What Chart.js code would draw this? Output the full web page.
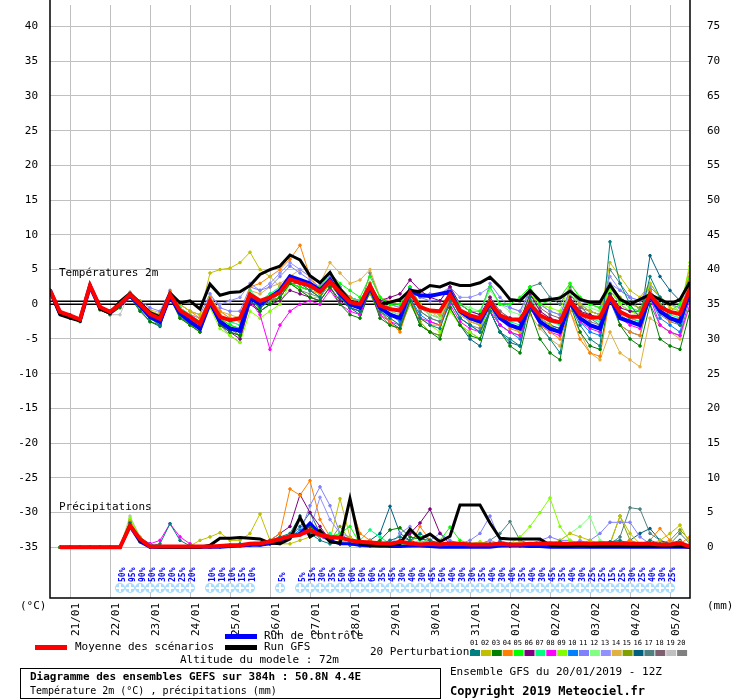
<!DOCTYPE html>
<html><head><meta charset="utf-8">
<script src="https://cdn.jsdelivr.net/npm/chart.js@4"></script>
<style>body{margin:0;background:#fff}canvas{display:block}</style>
</head><body><canvas id="c" width="740" height="700"></canvas>
<script>
const hours=[0,6,12,18,24,30,36,42,48,54,60,66,72,78,84,90,96,102,108,114,120,126,132,138,144,150,156,162,168,174,180,186,192,198,204,210,216,222,228,234,240,246,252,258,264,270,276,282,288,294,300,306,312,318,324,330,336,342,348,354,360,366,372,378,384];
const dayTicks=[12,36,60,84,108,132,156,180,204,228,252,276,300,324,348,372];
const dayLabels=["21/01","22/01","23/01","24/01","25/01","26/01","27/01","28/01","29/01","30/01","31/01","01/02","02/02","03/02","04/02","05/02"];
const leftTicks=[-35,-30,-25,-20,-15,-10,-5,0,5,10,15,20,25,30,35,40];
const rightTicks=[0,5,10,15,20,25,30,35,40,45,50,55,60,65,70,75];
const meanT=[2,-1.1,-1.6,-2.2,2.7,-0.4,-1.1,0,1.4,0,-1.4,-2.1,1.4,-0.9,-1.8,-2.8,0.5,-1.8,-2.3,-2,1.4,0.5,1,1.7,3.6,3.1,2.7,1.8,3.3,1.7,0.3,0,2.7,-0.2,-0.7,-0.9,1.7,-0.4,-0.9,-1,1.4,-0.9,-1.6,-2,0.3,-1.6,-2.2,-2.2,0,-1.6,-2.3,-2.6,0.5,-1.4,-1.9,-1.9,1,-1.1,-1.8,-1.8,1.4,-0.4,-1.1,-1.4,2.2];
const ctrlT=[2,-1.3,-1.8,-2.3,2.6,-0.5,-1.2,0,1.3,-0.2,-1.8,-2.5,1.2,-1.3,-2.5,-3.5,0.3,-2.5,-3.5,-3.8,1,0,1,2,4,3.5,3,2,3.5,1.5,0,-0.5,2.5,-0.5,-1.5,-2,2,1.3,1.2,1.5,1.8,-1,-2,-2.5,0.2,-2,-3,-3.5,0,-2.5,-3.5,-4,0.3,-2,-3,-3.5,1,-2,-2.5,-3,1.3,-1,-2,-2.5,2];
const gfsT=[2,-1.5,-2,-2.4,2.7,-0.7,-1.3,0.4,1.6,0.2,-1.2,-1.8,1.6,0.2,0.5,-0.7,2.9,1.3,1.7,1.8,2.7,4.3,5,5.5,7.1,6.4,4.1,3.1,4.6,2.2,0.5,0,2.6,0,0.3,0.7,2,1.8,2.7,2.5,3.1,2.7,2.7,3.1,3.9,2.5,0.7,0.5,2,0.5,0.7,0.9,1.9,0.7,0.3,0.3,2.8,0.7,0,0.7,1.4,0.7,0,0.7,3.2];
const pertT=[
[2,-1,-1.5,-2,2.5,-0.5,-1,0.3,1.5,-0.3,-2,-3,1,-1.5,-2.5,-3.5,0.5,-2.5,-3.5,-4,1.5,0,1,2,4,3,2,1,3.5,1,-0.5,-1,2.5,-1,-2,-3,1,-2,-3,-3.5,0.5,-2,-3,-4,-1,-4,-5,-6,1,-3,-5,-7,0,-3,-5,-6,9,3,0,-2,4,1,-2,-3,3],
[2,-1.3,-1.8,-2.3,2.8,-0.3,-1,0,1.4,0.5,-1,-1.5,1.5,0,-1,-1.5,4.5,5,5.2,6,7.5,5,4,2.5,4,3,2,1.5,3,1.5,0.5,0,3,0,-0.5,-1,2,0,-1,-1.5,1.5,-1,-2,-3,0.5,-2,-3,-4,0.5,-2,-3,-4,2,0,-1,-1.5,6,4,2,1,3,1,-0.5,-1,5.5],
[2,-1.4,-2,-2.5,2.5,-0.8,-1.5,-0.5,1,-1,-2.5,-3,1,-2,-3,-4,0,-3,-4,-4.5,0.5,-1,0,1,3,2,1,0.5,2.5,0,-1.5,-2,2,-2,-3,-3.5,0.5,-3,-4,-5,-0.5,-3,-4.5,-5,-1,-4,-6,-7,-1,-5,-7,-8,0,-4,-6,-6.5,1.5,-3,-5,-6,0,-5,-6,-6.5,-1],
[2,-1.2,-1.7,-2.1,2.7,-0.4,-1,0.2,1.6,0.3,-1,-2,1.8,0,-1,-2,1,-1,-2,-2.5,2.5,3,4,5,6.5,8.5,4,2,3,2,1,0,3,-1,-2.5,-4,0.5,-2,-3,-3,1,-1,-2,-2.5,0,-2,-3.5,-4,0.5,-3,-4,-5,-1,-5,-7,-7.5,1,-3,-4,-4.5,2,-1,-2.5,-2,4],
[2,-1.1,-1.6,-2,2.6,-0.3,-1,0.1,1.4,0,-1.5,-2,1.5,-1,-2,-3,1,-2,-3,-3.5,1.5,-1,0,1,3,2.5,2,2.5,4.5,3,2,1,4,1,0,0,2.5,0,-1,-1.5,2,0,-1,-1,2.5,0,0,1,2.5,0,0.5,1,3,1,0,-0.5,2.5,0.5,-0.5,-1,2,0,-1,0,4.5],
[2,-1.2,-1.8,-2.2,2.6,-0.5,-1.2,0,1.3,-0.2,-1.6,-2.5,1.2,-1.2,-2.5,-3.5,0.3,-3,-4,-5,0,-1,0,0.5,2,1.5,1,0.5,2.5,0.5,-0.5,-1,2.5,0.5,1,1.5,3.5,2,1,0.5,2.5,0,-1,-1.5,1,-1.5,-2,-2.5,1.5,-1,-2,-2.5,1,-1,-1.5,-2,1.5,-0.5,-1,-1,2,0,-1,-1.5,2.5],
[2,-1,-1.5,-2,2.8,-0.3,-0.9,0.2,1.5,0,-1.5,-2,1.5,-0.5,-1.5,-2.5,1,-1.5,-2.5,-3,2,0.5,1.5,2.5,4,3.5,3,2,3.5,2,1,0.5,3,0,-0.5,-1,2.5,0,-1,-1.5,1.5,-1,-2,-2.5,0.5,-2,-2.5,-3,1,-1.5,-2.5,-3,1,-1,-2,-2.5,1.5,-1,-2,-2.5,1.5,-1,-1.5,-2,2.5],
[2,-1.2,-1.7,-2.2,2.6,-0.5,-1.1,0,1.3,-0.3,-1.5,-2.2,1.3,-1,-2,-3,0,-2.5,-3.5,-4,0.5,-1.5,-6.5,-3,-1,0,0.5,0,2,0,-1,-1.5,2,-1.5,-2.5,-3,0.5,-2,-2.5,-3,0,-2.5,-3.5,-4,-1,-3,-4,-4.5,-0.5,-3,-4,-4.5,0,-2.5,-3.5,-4,0.5,-2,-3,-3.5,1,-3,-4,-4.5,0],
[2,-1.1,-1.6,-2.1,2.7,-0.4,-1,0.2,1.5,-0.5,-2,-3,1,-2,-3,-4,-0.5,-3.5,-4.5,-5.5,-1,-2,-1,0,3,2,1,1,3,1,0,-0.5,2,-1,-2,-3,0,-2,-3,-4,-1,-3,-4,-5,1,-2,-3,-3.5,1.5,0,-0.5,-1,3,1,0,-0.5,2,0,-1,-1.5,3,1,0,-1,6],
[2,-1.3,-1.9,-2.4,2.6,-0.6,-1.3,-0.2,1.2,-0.5,-2,-2.8,1.2,-1.5,-2.5,-3.5,0.5,-2.5,-3.5,-4,1,0,1,1.5,3.5,3,2.5,1.5,3,1,0,-0.5,2.5,-0.5,-1.5,-2.5,1,-1.5,-2.5,-3,0.5,-2,-3,-4,0,-3,-4,-5,0,-2,-3,-4,1,-2.5,-4,-4.5,0.5,-3,-4,-4.5,1,-2,-3,-4,2],
[2,-1.2,-1.8,-2.3,2.7,-0.4,-1.1,0.1,1.5,0.5,-0.5,-1,2,0,-1,-1.5,1.5,-0.5,-1,-1,2.5,2,2.5,4,5.5,4.5,3.5,2.5,4,2.5,1,0.5,3,0.5,-0.5,-1,2.5,1,0.5,0.5,2.5,0,-1,-1.5,3,1,-0.5,-1,2,0,-1,-1.5,2,0,-1,-1.5,3,2,1,0.5,2.5,1,0,-0.5,2.5],
[2,-1.1,-1.7,-2.2,2.7,-0.4,-1.1,0,1.4,0.3,-1,-1.5,1.5,-0.5,-1.5,-2.5,1,-1,-2,-2.5,1.5,0.5,1.5,2.5,4,3.5,3,2.5,4,2.5,1,0.5,3,0,-1,-1.5,2,-0.5,-1.5,-2,1.5,0,-0.5,-1,2,0,-1,-1.5,1.5,0,-1,-1.5,1.5,0,-0.5,-1,2,0,-1,-1.5,1.5,0,-1,-2,3],
[2,-1.2,-1.7,-2.2,2.6,-0.4,-1,0.2,1.5,0,-1,-1.5,1.5,-0.5,-1.5,-2,1,0,0.5,1,3,2,3,4.5,6,5,4,3,4,2.5,1,0.5,3,0.5,0,-0.5,2.5,1,1.5,1.5,2.5,1,1,1.5,2.5,0,-0.5,-1,2,0,-1,-1.5,2,0.5,0,-0.5,4,2,1,0.5,3,1,0,-0.5,3],
[2,-1.2,-1.7,-2.2,2.6,-0.4,-1.1,0.3,1.5,0.2,-0.8,-1.2,1.5,-0.5,-1.5,-2,0.5,-1,-1.5,-2,2,1.5,2.5,3,4,5,4,3,6,4.5,3,3.5,5,1,0.5,0,2.5,0,-1,-2,1,-1.5,-2.5,-3,0,-2,-3,-4,-1.5,-3.5,-5,-6,-1,-4,-7,-8,-4,-7,-8,-9,-2,-3,-4,-5,0],
[2,-1.3,-1.8,-2.3,2.6,-0.5,-1.2,0,1.4,-0.5,-2,-3,1,-2,-3,-4,0,-2,-3.5,-4.5,1,0,0.5,1,3,2.5,2,1.5,3,1,-0.5,-1,1.5,-1.5,-3,-3.5,0,-2.5,-4,-4.5,-0.5,-3,-4,-5,-0.5,-3,-4,-4.5,0,-2.5,-3.5,-4,2,0,-1,-1.5,3,1,0,-0.5,2,-1,-2,-3,4.5],
[2,-1.3,-1.9,-2.4,2.6,-0.7,-1.4,-0.3,1.2,-0.8,-2.5,-3.2,1,-1.8,-3,-4,0.2,-2.8,-4,-4.5,0.5,-0.5,0.5,1,3,2.5,2,1,3,1,-0.5,-1.5,2,-1,-2.5,-3.5,0.5,-3,-4,-4.5,-0.5,-3,-5,-6,-1,-4,-5.5,-6,0,-2,-3,-3.5,0,-2,-3,-3.5,1,-1,-2,-2.5,7,4,2,0.5,4],
[2,-1.2,-1.8,-2.3,2.7,-0.5,-1.2,0,1.4,-0.3,-1.8,-2.5,1.3,-1.2,-2.5,-3.5,0.3,-2.5,-3.5,-4.5,1,-0.5,0.5,1.5,3.5,3,2.5,1.5,3,1.5,0,-0.5,2.5,-0.5,-1.5,-2,1.5,-1,-2,-2.5,1,-1.5,-2.5,-3,0.5,-2,-3,-3.5,2.5,3,1,0,2.5,0,-2,-3,5,3,1,-1,0,-3,-4,-4.5,1],
[2,-1.2,-1.8,-2.3,2.6,-0.5,-1.2,0,1.3,-0.2,-1.5,-2.2,1.2,-1.2,-2.3,-3,0.5,-2,-3,-3.5,1,0,1,1.5,3,3,2.5,2,3.5,2,1,0.5,2.5,0,-1,-1.5,2,-0.5,-1.5,-2,1,-1,-2,-2.5,1,-1,-2,-2.5,1.5,-0.5,-1.5,-2,1.5,-0.5,-1,-1.5,2,0,-1,-1.5,2,0,-1,-1.5,2.5],
[2,-1.2,-1.8,-2.2,2.7,-0.4,-1.5,-1.5,1.8,0,-1,-1.5,1.5,-0.5,-1.5,-2.5,1,-1.5,-2.5,-3,1.5,0,1,2,4,3.5,3,2,3.5,2,0.5,0,2.5,-0.5,-1.5,-2,2,0,-1,-1.5,2,-0.5,-1.5,-2,1,-1,-2,-2.5,1,-1,-2,-2.5,1.5,-0.5,-1.5,-2,2.5,0,-1,-1.5,2,0,-1,-1.5,3],
[2,-1.3,-1.9,-2.4,2.6,-0.6,-1.3,-0.1,1.3,-0.4,-1.8,-2.6,1.3,-1.5,-3,-3.5,0,-3,-4.5,-5.5,0.5,-0.5,0.5,1,3,2,1.5,1,3,1,0,-0.5,4.5,1,0,-0.5,2,-1,-2,-2.5,0.5,-2,-3,-3.5,0.5,-2,-3,-3.5,0.5,-2,-3,-3.5,1,-1.5,-2.5,-3,1.5,-1.5,-2.5,-3,1.5,-1.5,-2.5,-3,1.5]];
const meanP=[null,0,0,0,0,0,0,0,3.1,1.2,0.1,0.1,0.1,0.1,0.1,0.1,0.1,0.2,0.3,0.3,0.5,0.6,0.8,1.2,1.6,1.8,2.5,1.8,1.5,1.4,1,0.8,0.7,0.6,0.5,0.8,0.6,0.4,0.5,0.4,0.6,0.5,0.4,0.4,0.4,0.5,0.4,0.4,0.5,0.5,0.6,0.5,0.5,0.6,0.5,0.6,0.6,0.6,0.5,0.5,0.5,0.4,0.4,0.6,0.1];
const ctrlP=[null,0,0,0,0,0,0,0,3,0.8,0,0,0,0,0,0,0,0,0.1,0.2,0.3,0.3,0.5,0.8,1.5,2,3.5,2,1,0.5,0.5,0.3,0.2,0.2,0.1,0.1,0.2,0.2,0.1,0,0,0,0,0,0,0.2,0.2,0.2,0.1,0.1,0,0,0,0,0,0,0,0,0,0,0,0,0,0,0];
const gfsP=[null,0,0,0,0,0,0,0,3.2,1,0.1,0,0,0,0,0,0.3,1.3,1.3,1.4,1.3,1.2,0.6,0.5,1.2,4.3,1.5,2.4,0.8,0.6,7,0.5,0.3,0.2,0.3,0.5,2.6,1.2,1.9,0.8,1.6,6.1,6.1,6.1,3.5,1.3,1.2,1.2,1.2,1.2,0.3,0.2,0.2,0.3,0.2,0.2,0.2,0.2,0.2,0.2,0.2,0.2,0.2,0.2,0];
const pertP=[
[null,0,0,0,0,0,0,0,3.5,1,0.2,0.5,3.4,1,0.2,0,0,0.2,0.3,0.5,0.3,0.5,1,1.5,2,4.5,2,1,0.5,0.8,0.3,0.2,0.5,0.3,1,1.5,1,2,1,0.5,0.3,0.2,0.5,0.3,0.5,0.8,0.5,0.3,0.2,0.5,0.3,0.8,0.5,0.3,0.2,0.5,0.8,1,0.5,0.3,1,0.5,0.3,0.5,0],
[null,0,0,0,0,0,0,0,3.8,1.2,0.3,0,0,0,0.2,1,1.5,2.1,1,1,2,4.8,1,0.5,0.5,1,1.5,2,1,7,1.5,0.5,0.3,0.5,0.5,0.3,0.2,0.5,0.3,0.2,0.5,0.3,0.2,0.5,0.3,0.2,0.5,0.8,0.5,0.3,0.5,1,2,1.5,1,0.5,0.5,4.5,2,0.5,0.5,1,2,3.2,0.5],
[null,0,0,0,0,0,0,0,3,0.8,0,0,0,0,0,0,0,0.2,0.2,0.3,0.3,0.5,0.5,1,1.5,2,3,2,1,0.5,0.5,0.5,0.5,1,2.5,2.8,1.5,1.2,1,0.5,0.3,0.2,0.2,0.2,0.3,0.2,0.2,0.2,0.3,0.2,0.2,0.3,0.2,0.3,0.2,0.2,0.3,0.5,0.3,0.2,0.2,0.3,0.2,0.2,0],
[null,0,0,0,0,0,0,0,3.5,1,0.1,0,0,0,0,0,0,0.2,0.3,0.2,0.5,0.5,1,2,8.4,7.5,9.6,4,1.5,1,6.5,2,1,0.5,0.5,0.3,0.2,3,1,0.5,0.3,0.2,0.3,0.2,0.3,0.5,0.3,0.2,0.3,0.5,0.3,0.5,0.3,0.2,0.5,0.3,0.2,0.5,1,0.5,1,2.7,1,0.5,1.5],
[null,0,0,0,0,0,0,0,3.2,1,0.2,0,0,0,0,0,0,0.1,0.2,0.2,0.3,0.5,0.8,1,1.5,2,3,2,1.5,2,3,0.5,0.3,0.5,0.3,0.5,1,1.5,0.5,1,2.9,1,0.5,0.3,0.2,0.3,0.5,0.3,0.2,0.3,0.2,0.5,0.3,0.2,0.3,0.2,0.5,0.3,0.2,0.3,0.5,0.3,0.2,0.5,0],
[null,0,0,0,0,0,0,0,3.6,1.1,0.1,0,0,0,0,0,0,0.2,0.3,0.2,0.3,0.5,1,2,3,7.6,5,3,1,1.5,1,0.5,0.5,0.3,0.5,1,2,3.5,5.5,2,0.5,0.3,0.2,0.3,0.2,0.3,0.2,0.3,0.2,0.3,0.2,0.3,0.2,0.3,0.2,0.5,0.3,0.2,0.5,0.3,0.2,0.3,0.2,0.3,0],
[null,0,0,0,0,0,0,0,3.4,1,0.1,0,0,0,0,0,0,0.1,0.2,0.2,0.3,0.3,0.5,1,1.5,2,2.5,1.5,2,1,0.5,1,2.5,1.5,0.5,0.3,0.5,1,0.5,0.3,0.2,0.5,0.3,0.2,0.3,0.5,0.3,0.2,0.3,0.2,0.3,0.5,0.3,0.2,0.3,0.2,0.3,0.2,0.3,0.2,0.3,0.5,0.3,0.2,0],
[null,0,0,0,0,0,0,0,3.7,1.2,0.5,1,3.4,1.5,0.5,0,0,0.1,0.2,0.2,0.3,0.3,0.5,1,1.5,1.8,2,1.5,1,0.5,0.5,0.3,0.2,0.3,0.2,0.3,0.2,0.3,0.2,0.3,0.2,0.3,0.2,0.3,0.2,0.3,0.2,0.3,0.2,0.3,0.2,0.3,0.2,0.3,0.2,0.3,0.2,0.3,0.2,0.3,0.2,0.3,0.2,0.3,0],
[null,0,0,0,0,0,0,0,4.2,1.5,0.2,0,0,0,0,0,0,0.1,0.2,0.3,0.3,0.5,0.5,1,1.5,2,2.5,2,1.5,1,0.5,0.5,0.3,0.5,0.3,0.5,0.3,0.5,0.3,0.5,0.5,0.3,0.5,0.8,0.5,0.3,0.5,1.5,3,5,7.1,3,1,0.5,0.3,0.5,0.3,0.5,0.8,0.5,0.3,0.5,0.3,0.5,0],
[null,0,0,0,0,0,0,0,3.3,1,0.1,0,0,0,0,0,0,0.1,0.1,0.2,0.3,0.3,0.5,0.8,1.5,2.5,3,1.5,1,0.5,0.5,0.3,0.2,0.3,0.2,0.3,0.2,0.3,0.2,0.3,0.2,0.3,0.2,0.3,0.2,0.3,0.2,0.3,0.2,0.3,0.2,0.3,0.2,0.3,0.2,0.3,0.2,0.3,0.2,0.3,0.2,0.3,0.2,0.3,0],
[null,0,0,0,0,0,0,0,3.5,1,0.1,0,0,0,0,0,0,0.2,0.2,0.3,0.3,0.5,0.5,1,1.5,2,6,8.7,6,2,1,0.5,0.3,0.5,1,0.5,0.3,0.5,1,2,1,0.5,1,2,4.5,1,0.5,0.3,0.5,1,1.5,1,1,0.5,1,2,3.6,3.6,3.6,1.5,0.5,0.5,0.3,0.5,0],
[null,0,0,0,0,0,0,0,3.6,1.1,0.1,0,0,0,0,0,0,0.2,0.2,0.3,0.3,0.5,0.5,1,1.5,2,3,2,1.5,1,0.5,0.5,0.3,0.5,0.3,0.5,0.3,0.5,0.3,0.5,0.3,0.5,0.3,0.5,0.3,0.5,0.3,0.5,0.3,0.5,0.5,1,2,3,4.4,1,0.5,0.3,0.5,0.3,0.5,0.3,0.5,0.3,0],
[null,0,0,0,0,0,0,0,3.4,1,0.1,0,0,0,0,0,0,0.1,0.2,0.2,0.3,0.3,0.5,1,1.5,2,2.5,7.2,4,2,1.5,0.5,0.3,0.5,0.3,2,3,1,0.5,0.3,0.5,0.3,0.5,0.3,1,0.5,0.3,0.5,0.3,0.5,0.3,0.5,0.3,1,0.5,0.3,0.5,0.3,0.5,0.3,0.5,0.3,0.5,0.3,0],
[null,0,0,0,0,0,0,0,3.8,1.2,0.2,0,0,0,0,0,0,0.2,0.2,0.3,0.3,0.5,0.5,1,1.5,2,2,2,1.5,1,0.5,0.5,0.3,0.5,0.3,0.5,0.3,0.5,0.3,0.5,0.3,0.5,0.3,0.5,0.3,0.5,0.3,0.5,0.3,0.5,0.3,0.5,0.3,0.5,0.3,0.5,0.3,0.5,0.3,0.5,0.3,0.5,0.3,0.8,0],
[null,0,0,0,0,0,0,0,3.2,1,0.1,0,0,0,0,0,0,0.1,0.2,0.2,0.3,0.3,0.5,1,1.5,2,2.5,2,1,3,1,0.5,0.3,0.5,0.3,0.5,0.3,0.5,0.3,0.5,0.3,0.5,0.3,0.5,0.3,0.5,0.3,0.5,0.3,0.5,0.3,0.5,0.3,0.5,0.3,0.5,0.5,4.5,1,0.5,0.3,0.5,1,2.5,1],
[null,0,0,0,0,0,0,0,3.5,1.4,0.5,0,0,0,0,0,0,0.1,0.2,0.2,0.3,0.3,0.5,1,1.5,3,5,2,1,1.5,1,0.5,1,2,5.9,2,1,0.5,0.3,0.5,0.3,0.5,0.3,0.5,0.3,0.5,0.3,0.5,0.3,0.5,0.3,0.5,0.3,0.5,0.3,0.5,0.3,0.5,1,2,2.7,1,0.5,1,0],
[null,0,0,0,0,0,0,0,3.3,1,0.1,0,0,0,0,0,0,0.1,0.2,0.2,0.3,0.3,0.5,1,1.5,2,2.5,2,1.5,1,0.5,0.5,0.3,0.5,0.3,0.5,0.3,0.5,0.3,0.5,0.3,0.5,0.3,0.5,1,2,3.7,1,0.5,0.3,0.5,0.3,0.5,0.3,0.5,0.3,0.5,1.5,5.7,5.5,2,1,0.5,2,0.5],
[null,0,0,0,0,0,0,0,3.5,1,0.1,0,0,0,0,0,0,0.1,0.2,0.2,0.3,0.3,0.5,1,1.5,2,2,1.5,1,0.5,0.5,0.3,0.2,0.3,0.2,0.3,0.2,0.3,0.2,0.3,0.2,0.3,0.2,0.3,0.2,0.3,0.2,0.3,0.2,0.3,0.2,0.3,0.2,0.3,0.2,0.3,0.2,0.3,0.2,0.3,0.2,0.3,0.2,0.3,0],
[null,0,0,0,0,0,0,0,4.5,1.5,0.3,0,0,0,0,0,0,0.1,0.2,0.2,0.3,0.3,0.5,1,1.5,2,2.5,2,1.5,1,0.5,0.5,0.3,0.5,0.3,0.5,0.3,0.5,0.3,0.5,0.3,0.5,0.3,0.5,0.3,0.5,0.3,0.5,0.3,0.5,0.3,0.5,0.3,0.5,0.3,0.5,0.3,0.5,0.3,0.5,0.3,0.5,0.3,0.5,0],
[null,0,0,0,0,0,0,0,3.9,1.3,0.2,0,0,0,0,0,0,0.1,0.2,0.2,0.3,0.3,0.5,1,1.5,2,3,2.5,1.5,1,0.5,0.5,0.3,0.5,0.3,0.5,0.3,0.5,0.3,0.5,0.3,0.5,0.3,0.5,0.3,0.5,0.3,0.5,0.3,0.5,0.3,0.5,0.3,0.5,0.3,0.5,0.3,0.5,0.3,0.5,0.3,0.5,0.3,0.5,0]];
const pertColors=["#008080","#c0c000","#008000","#ff8000","#00ff00","#800080","#00ff80","#ff00ff","#80ff00","#0080ff","#8080ff","#80ff80","#9090ff","#e0b040","#80a000","#006080","#508080","#806070","#c0c0c0","#808080"];
const snowPct=[null,null,null,null,null,null,null,50,95,90,50,30,20,25,20,null,10,10,10,15,10,null,null,5,null,5,15,30,35,50,60,50,60,35,45,30,40,30,45,50,40,30,30,35,40,30,40,35,40,30,45,35,40,30,25,25,15,25,30,25,40,30,25,null,null];

const pts=a=>a.map((v,i)=>({x:hours[i],y:v}));
const ds=[];
pertT.forEach((a,k)=>ds.push({data:pts(a),borderColor:pertColors[k],backgroundColor:pertColors[k],borderWidth:1,pointRadius:1.3,yAxisID:'y',order:10}));
pertP.forEach((a,k)=>ds.push({data:pts(a),borderColor:pertColors[k],backgroundColor:pertColors[k],borderWidth:1,pointRadius:1.3,yAxisID:'y2',order:10}));
ds.push({data:pts(ctrlT),borderColor:'#0000ff',borderWidth:4,pointRadius:0,yAxisID:'y',order:3});
ds.push({data:pts(ctrlP),borderColor:'#0000ff',borderWidth:3,pointRadius:0,yAxisID:'y2',order:3});
ds.push({data:pts(gfsT),borderColor:'#000',borderWidth:3,pointRadius:0,yAxisID:'y',order:2});
ds.push({data:pts(gfsP),borderColor:'#000',borderWidth:3,pointRadius:0,yAxisID:'y2',order:2});
ds.push({data:pts(meanT),borderColor:'#ff0000',borderWidth:4,pointRadius:0,yAxisID:'y',order:1});
ds.push({data:pts(meanP),borderColor:'#ff0000',borderWidth:4,pointRadius:0,yAxisID:'y2',order:1});

const MONO='"DejaVu Sans Mono", monospace';
const deco={id:'deco',
beforeDatasetsDraw(c){const g=c.ctx,a=c.chartArea,y0=c.scales.y.getPixelForValue(0);
 g.save();g.strokeStyle='#000';g.lineWidth=1.5;
 [y0-3,y0].forEach(v=>{g.beginPath();g.moveTo(a.left,v);g.lineTo(a.right,v);g.stroke();});
 g.fillStyle='#000';g.font='11px '+MONO;g.textBaseline='middle';
 g.fillText('Températures 2m',59,273);g.fillText('Précipitations',59,507);g.restore();},
afterDraw(c){const g=c.ctx,a=c.chartArea,sx=c.scales.x,sy=c.scales.y,s2=c.scales.y2;
 g.save();g.strokeStyle='#000';g.lineWidth=1.5;
 g.beginPath();g.moveTo(a.left,0);g.lineTo(a.left,a.bottom);g.lineTo(a.right,a.bottom);g.lineTo(a.right,0);g.stroke();
 g.fillStyle='#000';g.font='11px '+MONO;g.textBaseline='middle';
 g.textAlign='right';leftTicks.forEach(t=>g.fillText(String(t),38,sy.getPixelForValue(t)));
 g.textAlign='left';rightTicks.forEach(t=>g.fillText(String(t),707,s2.getPixelForValue(t)));
 g.fillText('(°C)',20,606);g.fillText('(mm)',707,606);
 dayTicks.forEach((h,i)=>{g.save();g.translate(sx.getPixelForValue(h)+6,603);g.rotate(-Math.PI/2);g.textAlign='right';g.fillText(dayLabels[i],0,0);g.restore();});
 snowPct.forEach((p,i)=>{if(p==null)return;const x=sx.getPixelForValue(hours[i]);
  g.fillStyle='#a8dcff';g.beginPath();g.arc(x,588,5,0,7);g.fill();
  g.fillStyle='#fff';g.fillRect(x-1,584,2,8);g.fillRect(x-4,587,8,2);
  g.save();g.translate(x+3,582);g.rotate(-Math.PI/2);g.fillStyle='#0000ff';g.font='bold 8px '+MONO;g.textAlign='left';g.fillText(p+'%',0,0);g.restore();});
 g.fillStyle='#000';g.textAlign='left';g.font='11px '+MONO;
 g.fillStyle='#ff0000';g.fillRect(35,645,32,5);g.fillStyle='#000';g.fillText('Moyenne des scénarios',75,647);
 g.fillStyle='#0000ff';g.fillRect(225,634,32,5);g.fillStyle='#000';g.fillText('Run de contrôle',264,636);
 g.fillStyle='#000';g.fillRect(225,645,32,5);g.fillText('Run GFS',264,647);
 g.fillText('Altitude du modele : 72m',180,660);
 g.fillText('20 Perturbations',370,652);
 pertColors.forEach((col,k)=>{const x=470+k*10.9;g.fillStyle=col;g.fillRect(x,650,10,6);
  g.fillStyle='#000';g.font='7px '+MONO;g.fillText(String(k+1).padStart(2,'0'),x,643);});
 g.font='11px '+MONO;
 g.strokeStyle='#000';g.lineWidth=1;g.strokeRect(20.5,668.5,420,30);
 g.font='bold 11px '+MONO;g.fillText('Diagramme des ensembles GEFS sur 384h : 50.8N 4.4E',30,677);
 g.font='10px '+MONO;g.fillText('Température 2m (°C) , précipitations (mm)',30,691);
 g.font='11px '+MONO;g.fillText('Ensemble GFS du 20/01/2019 - 12Z',450,672);
 g.font='bold 12px '+MONO;g.fillText('Copyright 2019 Meteociel.fr',450,692);
 g.restore();}};

new Chart(document.getElementById('c'),{type:'line',data:{datasets:ds},plugins:[deco],
options:{responsive:false,animation:false,devicePixelRatio:1,spanGaps:false,
 layout:{padding:0},plugins:{legend:{display:false},tooltip:{enabled:false}},
 elements:{line:{tension:0}},
 scales:{
  x:{type:'linear',min:0,max:384,afterBuildTicks:s=>{s.ticks=dayTicks.map(v=>({value:v}));},
     grid:{color:'#c0c0c0',drawTicks:false},border:{display:false},ticks:{display:false},afterFit:s=>{s.height=102;}},
  y:{type:'linear',position:'left',min:-42.3,max:43.1,afterBuildTicks:s=>{s.ticks=leftTicks.map(v=>({value:v}));},
     grid:{color:'#c0c0c0',drawTicks:false},border:{display:false},ticks:{display:false},afterFit:s=>{s.width=50;}},
  y2:{type:'linear',position:'right',min:-7.3,max:78.1,grid:{display:false},border:{display:false},ticks:{display:false},afterFit:s=>{s.width=50;}}
 }}});
</script></body></html>
